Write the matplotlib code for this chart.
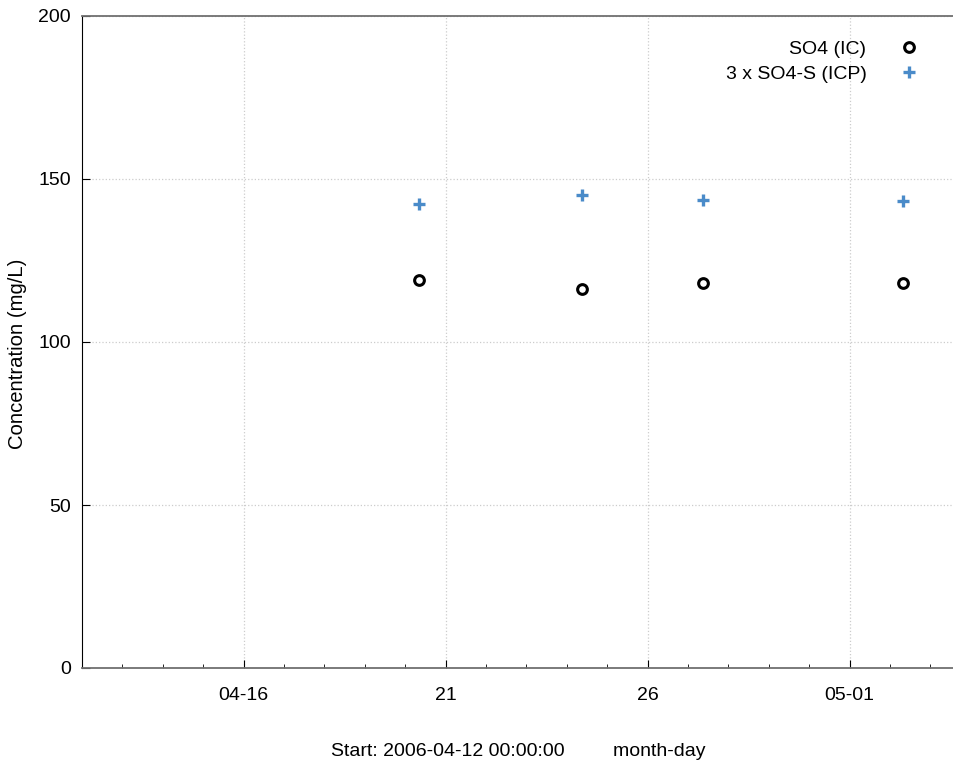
import numpy as np
import pandas as pd
import matplotlib
matplotlib.use("Agg")
import matplotlib.pyplot as plt
import matplotlib.dates as mdates

plt.rcParams['font.family'] = ['Liberation Sans', 'DejaVu Sans']

# sample times and values
ic_dates = pd.to_datetime(["2006-04-20 08:00", "2006-04-24 09:00",
                           "2006-04-27 09:00", "2006-05-02 08:00"])
so4_ic = [119.0, 116.2, 118.1, 118.0]
icp_dates = ic_dates
so4s_icp_x3 = [142.3, 145.1, 143.6, 143.2]

fs = 14

fig = plt.figure(figsize=(9.54, 7.63), dpi=100)
ax = fig.add_axes([82/954, 1 - 668/763, (954 - 82)/954, (668 - 16)/763])

ax.plot(ic_dates, so4_ic, 'o', ls='none', mfc='white', mec='black', mew=2.2,
        ms=7, label='SO4 (IC)', zorder=3)
ax.plot(icp_dates, so4s_icp_x3, '+', ls='none', color='#4a8bc9', mew=2.4,
        ms=9, label='3 x SO4-S (ICP)', zorder=3)

ax.set_xlim(pd.Timestamp("2006-04-12"), pd.Timestamp("2006-05-03 14:00"))
ax.set_ylim(0, 200)
ax.set_yticks([0, 50, 100, 150, 200])

ax.xaxis.set_major_locator(mdates.DayLocator(bymonthday=[1, 6, 11, 16, 21, 26]))
ax.xaxis.set_minor_locator(mdates.DayLocator())

def fmt(x, pos):
    d = mdates.num2date(x)
    if d.day in (1, 16):
        return d.strftime("%m-%d")
    return d.strftime("%d")
ax.xaxis.set_major_formatter(plt.FuncFormatter(fmt))

ax.grid(True, which='major', ls=':', color='#cccccc', lw=0.9)
ax.tick_params(which='major', direction='in', length=6, labelsize=fs, pad=14)
ax.tick_params(axis='y', which='major', pad=8)
ax.tick_params(which='minor', direction='in', length=3)

ax.spines['left'].set_color('black')
for s in ['bottom', 'top']:
    ax.spines[s].set_color('#707070')
    ax.spines[s].set_linewidth(1.3)
ax.spines['right'].set_visible(False)

ax.set_ylabel("Concentration (mg/L)", fontsize=14.6)
ax.yaxis.set_label_coords(-0.063, 0.482)
ax.set_xlabel("Start: 2006-04-12 00:00:00         month-day", fontsize=fs, labelpad=28)

ax.legend(loc='upper right', bbox_to_anchor=(0.991, 0.99), frameon=False,
          markerfirst=False, fontsize=fs, handletextpad=1.2, labelspacing=0.4)

fig.savefig("out.png", dpi=100)
